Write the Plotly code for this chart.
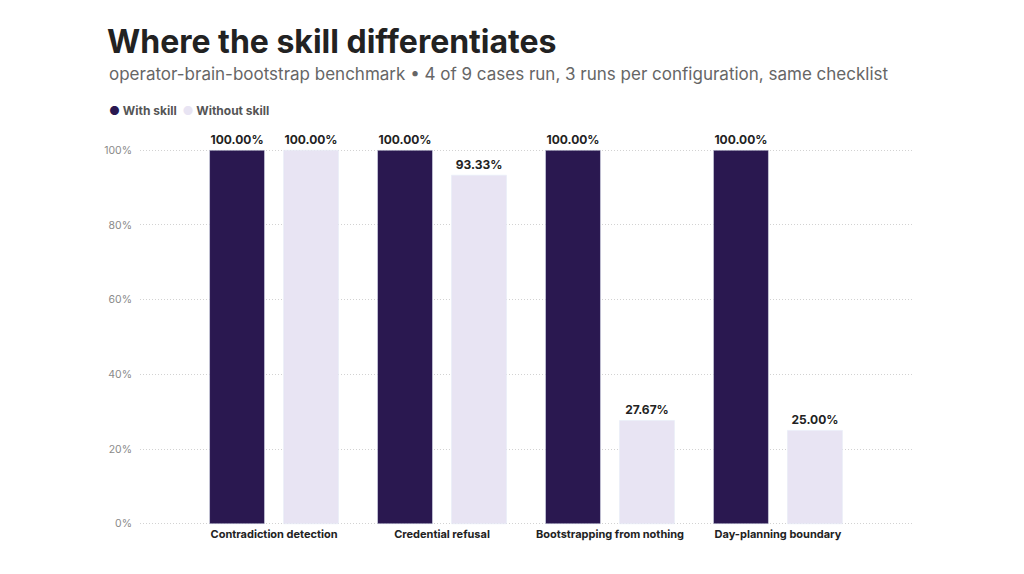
import plotly.graph_objects as go

# Data
cases = ["Contradiction detection", "Credential refusal", "Bootstrapping from nothing", "Day-planning boundary"]
with_skill = [100.0, 100.0, 100.0, 100.0]
without_skill = [100.0, 93.33, 27.67, 25.0]
y_ticks = [0, 20, 40, 60, 80, 100]
y_labels = [f"{v}%" for v in y_ticks]

DARK = "#2a1850"
LIGHT = "#e8e4f3"
FONT = "Inter"

# page body has an 8px margin, so offsets below are shifted by 8px
fig = go.Figure()

fig.add_trace(go.Bar(
    x=cases, y=with_skill, name="With skill", marker_color=DARK,
    text=[f"{v:.2f}%" for v in with_skill], textposition="outside",
    cliponaxis=False, showlegend=False,
    textfont=dict(family=FONT, size=12, color="#222222", weight=700),
))
fig.add_trace(go.Bar(
    x=cases, y=without_skill, name="Without skill", marker_color=LIGHT,
    text=[f"{v:.2f}%" for v in without_skill], textposition="outside",
    cliponaxis=False, showlegend=False,
    textfont=dict(family=FONT, size=12, color="#222222", weight=700),
))

pad = 0.6  # a little room so the 0% and 100% grid lines are drawn
t_m, b_m = 142 - 2, 58 - 2
plot_w = 1024 - 132 - 119
plot_h = 574 - t_m - b_m

fig.update_layout(
    width=1024, height=574,
    paper_bgcolor="white", plot_bgcolor="white",
    margin=dict(l=132, r=119, t=t_m, b=b_m),
    barmode="group", bargap=0.119, bargroupgap=0.257,
    font=dict(family=FONT),
    showlegend=False,
    title=dict(
        text="Where the skill differentiates",
        font=dict(family=FONT, size=32, color="#222222", weight=700),
        xref="container", x=99 / 1024, xanchor="left",
        yref="container", y=1 - 34 / 574, yanchor="middle",
        pad=dict(l=0, r=0, t=0, b=0),
    ),
    xaxis=dict(
        range=[-0.798, 3.804], showgrid=False, showline=False, ticks="",
        tickfont=dict(family=FONT, size=11, color="#222222", weight=700),
    ),
    yaxis=dict(
        range=[-pad, 100 + pad], tickvals=y_ticks, ticktext=y_labels,
        showgrid=True, gridcolor="#d2d2d2", griddash="1px,2px", gridwidth=1,
        zeroline=False, showline=False, ticks="", ticklabelstandoff=7,
        tickfont=dict(family=FONT, size=10.5, color="#8a8a8a"),
    ),
)

top_px = 142 - t_m  # plot top offset from where 100% sits

# subtitle
fig.add_annotation(
    text="operator-brain-bootstrap benchmark • 4 of 9 cases run, 3 runs per configuration, same checklist",
    xref="paper", yref="paper", x=(99 - 132) / plot_w, y=1 + (t_m - 66) / plot_h,
    xanchor="left", yanchor="middle", showarrow=False,
    font=dict(family=FONT, size=17, color="#666666"),
)

# legend with round markers
fig.add_annotation(
    text=(f"<span style='color:{DARK}'>●</span> With skill  "
          f"<span style='color:{LIGHT}'>●</span> Without skill"),
    xref="paper", yref="paper", x=(99 - 132) / plot_w, y=1 + (t_m - 102) / plot_h,
    xanchor="left", yanchor="middle", showarrow=False,
    font=dict(family=FONT, size=12, color="#555555", weight=700),
)

fig.write_html("out.html")
